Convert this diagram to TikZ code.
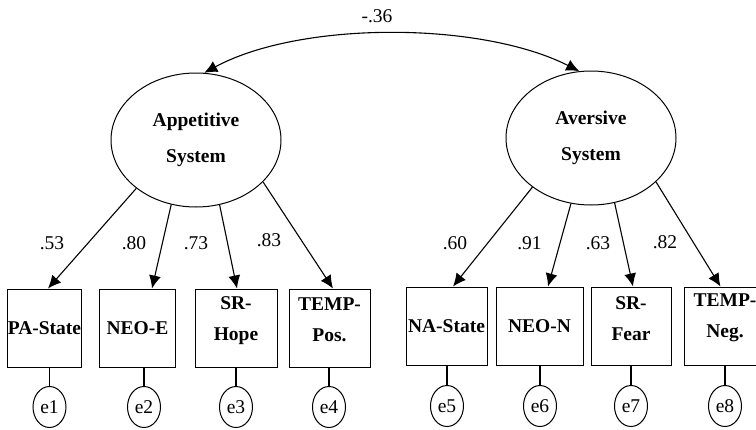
\documentclass[tikz,border=0pt]{standalone}
\usepackage{fontspec}
\setmainfont{Liberation Serif}
\usetikzlibrary{shapes.geometric,arrows.meta}

\tikzset{
  latent/.style={draw, ellipse, line width=1pt, minimum width=170pt, minimum height=134pt,
    inner sep=0pt, align=center, font=\fontsize{19.5}{36}\selectfont\bfseries},
  obs/.style={draw, rectangle, line width=1pt, minimum height=78pt, inner sep=0pt,
    font=\fontsize{19.5}{31}\selectfont\bfseries},
  btxt/.style={align=center, inner sep=0pt, font=\fontsize{19.5}{31}\selectfont\bfseries},
  err/.style={draw, ellipse, line width=1pt, minimum width=33pt, minimum height=41pt,
    inner sep=0pt, font=\fontsize{19.5}{20}\selectfont},
  coef/.style={inner sep=0pt, font=\fontsize{19.5}{20}\selectfont},
  >={Latex[length=13pt,width=12pt]}
}

\begin{document}
\begin{tikzpicture}[x=1pt,y=-1pt,line width=1.1pt]
  \useasboundingbox (0,0) rectangle (756,429);

  % latent factors
  \node[latent] (ap) at (196,140) {Appetitive\\System};
  \node[latent] (av) at (591,138) {Aversive\\System};
  \draw[<->] (ap.83) .. controls (300,21) and (480,21) .. (av.100);
  \node[coef] (r) at (377,16) {-.36};

  % indicators, appetitive side
  \node[obs, minimum width=74pt] (pa) at (44.5,328) {PA-State};
  \node[obs, minimum width=76pt] (neoe) at (137.5,328) {NEO-E};
  \node[obs, minimum width=82pt] (srh) at (236,328) {};
  \node[btxt] (srht) at ([yshift=7pt]srh.center) {SR-\\Hope};
  \node[obs, minimum width=81pt] (tpos) at (329.5,328) {};
  \node[btxt] (tpost) at ([yshift=8pt]tpos.center) {TEMP-\\Pos.};

  % indicators, aversive side
  \node[obs, minimum width=81pt] (na) at (446.5,326) {NA-State};
  \node[obs, minimum width=87pt] (neon) at (539.5,326) {NEO-N};
  \node[obs, minimum width=80pt] (srf) at (631,326) {};
  \node[btxt] (srft) at ([yshift=7pt]srf.center) {SR-\\Fear};
  \node[obs, minimum width=82pt] (tneg) at (725,326) {};
  \node[btxt] (tnegt) at ([yshift=8pt]tneg.center) {TEMP-\\Neg.};

  % loadings
  \draw[->] (ap.219) -- ([xshift=3.5pt]pa.north);
  \draw[->] (ap.249) -- ([xshift=14.5pt]neoe.north);
  \draw[->] (ap.290) -- ([xshift=1pt]srh.north);
  \draw[->] (ap.328) -- ([xshift=3.5pt]tpos.north);
  \draw[->] (av.220) -- ([xshift=6.5pt]na.north);
  \draw[->] (av.253) -- ([xshift=8.5pt]neon.north);
  \draw[->] (av.290) -- ([xshift=2pt]srf.north);
  \draw[->] (av.326) -- ([xshift=-4.5pt]tneg.north);

  \node[coef] (l1) at (52,243) {.53};
  \node[coef] (l2) at (134,243) {.80};
  \node[coef] (l3) at (196,243) {.73};
  \node[coef] (l4) at (269,240.5) {.83};
  \node[coef] (l5) at (455,243) {.60};
  \node[coef] (l6) at (529.5,243) {.91};
  \node[coef] (l7) at (598,243) {.63};
  \node[coef] (l8) at (665,242) {.82};

  % error terms
  \node[err] (e1) at (49.5,407) {e1};
  \node[err] (e2) at (144,407) {e2};
  \node[err] (e3) at (236,407) {e3};
  \node[err] (e4) at (329,407) {e4};
  \node[err] (e5) at (447,406) {e5};
  \node[err] (e6) at (540,406) {e6};
  \node[err] (e7) at (631,406) {e7};
  \node[err] (e8) at (725,406) {e8};
  \draw (e1.north |- pa.south) -- (e1.north);
  \draw (e2.north |- neoe.south) -- (e2.north);
  \draw (e3.north |- srh.south) -- (e3.north);
  \draw (e4.north |- tpos.south) -- (e4.north);
  \draw (e5.north |- na.south) -- (e5.north);
  \draw (e6.north |- neon.south) -- (e6.north);
  \draw (e7.north |- srf.south) -- (e7.north);
  \draw (e8.north |- tneg.south) -- (e8.north);
\end{tikzpicture}
\end{document}
